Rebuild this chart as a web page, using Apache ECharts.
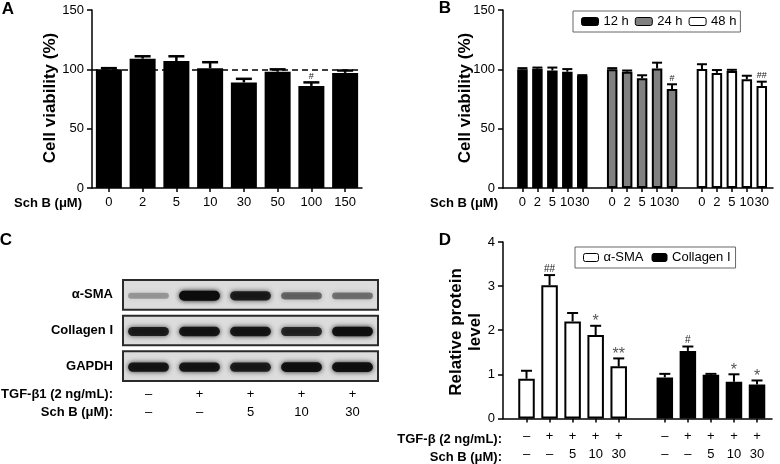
<!DOCTYPE html>
<html>
<head>
<meta charset="utf-8">
<script src="https://cdn.jsdelivr.net/npm/echarts@6/dist/echarts.min.js"></script>
<style>
  html, body { margin: 0; padding: 0; background: #fff; }
  #chart { width: 780px; height: 464px; }
</style>
</head>
<body>
<div id="chart"></div>
<script>
  // ---- panel A: viability (single dose series)
  var aDose = ['0', '2', '5', '10', '30', '50', '100', '150'];
  var aMean = [100, 109, 107, 101, 89, 98, 86, 97];
  var aErr = [1, 2, 4, 5, 3, 2, 3, 2];
  var aSig = ['', '', '', '', '', '', '#', ''];

  // ---- panel B: viability by time
  var bDose = ['0', '2', '5', '10', '30'];
  var b12 = [100, 100.5, 99, 98, 94.5];
  var b12Err = [1, 1, 2.5, 2.2, 0.6];
  var b12Sig = ['', '', '', '', ''];
  var b24 = [100, 98, 92.5, 100.8, 83.4];
  var b24Err = [1, 1, 2.5, 4.8, 4];
  var b24Sig = ['', '', '', '', '#'];
  var b48 = [100.3, 97, 98.6, 91.6, 86];
  var b48Err = [4, 2.4, 1, 3, 3.6];
  var b48Sig = ['', '', '', '', '##'];

  // ---- panel C: western blot (relative band darkness, 0..1)
  var cProteins = ['α-SMA', 'Collagen I', 'GAPDH'];
  var cTgf = ['–', '+', '+', '+', '+'];
  var cSch = ['–', '–', '5', '10', '30'];
  var cBand = [
    [0.3, 1, 0.85, 0.5, 0.45],
    [0.85, 0.9, 0.9, 0.8, 0.95],
    [0.9, 0.9, 0.85, 0.95, 0.95]
  ];

  // ---- panel D: relative protein level
  var dTgf = ['–', '+', '+', '+', '+'];
  var dSch = ['–', '–', '5', '10', '30'];
  var dSma = [0.90, 3.02, 2.20, 1.89, 1.18];
  var dSmaErr = [0.18, 0.23, 0.19, 0.21, 0.18];
  var dSmaSig = ['', '##', '', '*', '**'];
  var dCol = [0.93, 1.53, 0.99, 0.83, 0.77];
  var dColErr = [0.08, 0.10, 0.02, 0.17, 0.09];
  var dColSig = ['', '#', '', '*', '*'];

  var FONT = '"Liberation Sans", Arial, sans-serif';

  // slot index on the value axis: groups of five with one empty slot between
  function slots(g, n, step) {
    var out = [];
    for (var i = 0; i < n; i++) out.push(g * step + i);
    return out;
  }
  var bX12 = slots(0, 5, 6), bX24 = slots(1, 5, 6), bX48 = slots(2, 5, 6);
  var dXSma = slots(0, 5, 6), dXCol = slots(1, 5, 6);

  function pairs(xs, ys) {
    return ys.map(function (y, i) { return [xs[i], y]; });
  }

  function errorSeries(gi, xs, means, errs, sigs, capW, lw, hashPx, starPx) {
    return {
      type: 'custom',
      xAxisIndex: gi,
      yAxisIndex: gi,
      z: 5,
      silent: true,
      data: means.map(function (m, i) { return [xs[i], m, errs[i]]; }),
      encode: { x: 0, y: 1 },
      renderItem: function (params, api) {
        var x = api.value(0), m = api.value(1), e = api.value(2);
        var p0 = api.coord([x, m]);
        var p1 = api.coord([x, m + e]);
        var kids = [
          { type: 'line', shape: { x1: p0[0], y1: p0[1], x2: p1[0], y2: p1[1] },
            style: { stroke: '#000', lineWidth: lw } },
          { type: 'line', shape: { x1: p1[0] - capW / 2, y1: p1[1], x2: p1[0] + capW / 2, y2: p1[1] },
            style: { stroke: '#000', lineWidth: lw } }
        ];
        var s = sigs[params.dataIndex];
        if (s) {
          var star = s.indexOf('*') >= 0;
          kids.push({
            type: 'text', x: p1[0], y: p1[1] - (star ? 4 : 6),
            style: {
              text: s,
              font: (star ? starPx : hashPx) + 'px ' + FONT,
              fill: star ? '#555' : '#222',
              textAlign: 'center', textVerticalAlign: 'middle'
            }
          });
        }
        return { type: 'group', children: kids };
      }
    };
  }

  var axisLine = { show: true, onZero: false, lineStyle: { color: '#000', width: 1.5 } };
  var tickOut = { show: true, length: 5, lineStyle: { color: '#000', width: 1.5 } };
  var labelStyle = { color: '#000', fontSize: 13, fontFamily: FONT };

  function viabilityY(gi) {
    return {
      gridIndex: gi, type: 'value', min: 0, max: 150, interval: 50,
      axisLine: axisLine, axisTick: tickOut, splitLine: { show: false },
      axisLabel: Object.assign({ margin: 8 }, labelStyle)
    };
  }

  var barBorder = { borderColor: '#000', borderWidth: 2 };

  var chart = echarts.init(document.getElementById('chart'), null, { renderer: 'canvas' });

  var option = {
    animation: false,
    textStyle: { fontFamily: FONT },
    grid: [
      { left: 92, top: 10, width: 270, height: 178 },
      { left: 503, top: 10, width: 270, height: 178 },
      { left: 123, top: 277, width: 255, height: 107 },
      { left: 503, top: 242, width: 269, height: 179 }
    ],
    xAxis: [
      {
        gridIndex: 0, type: 'category', data: aDose,
        axisLine: axisLine,
        axisTick: { show: true, length: 4, alignWithLabel: true, lineStyle: { color: '#000', width: 1.5 } },
        axisLabel: Object.assign({ margin: 8, interval: 0 }, labelStyle)
      },
      {
        gridIndex: 1, type: 'value', min: -1.3, max: 16.75,
        axisLine: axisLine, splitLine: { show: false },
        axisTick: { show: true, length: 4, customValues: bX12.concat(bX24, bX48), lineStyle: { color: '#000', width: 1.5 } },
        axisLabel: Object.assign({
          margin: 8,
          customValues: bX12.concat(bX24, bX48),
          formatter: function (v) { return bDose[Math.round(v) % 6]; }
        }, labelStyle)
      },
      {
        gridIndex: 2, type: 'category', data: cTgf.map(function (t, i) { return t + '\n' + cSch[i]; }),
        axisLine: { show: false }, axisTick: { show: false },
        axisLabel: Object.assign({ margin: 1, lineHeight: 18.4, interval: 0 }, labelStyle)
      },
      {
        gridIndex: 3, type: 'value', min: -1.02, max: 10.65,
        axisLine: axisLine, splitLine: { show: false },
        axisTick: { show: true, length: 4, customValues: dXSma.concat(dXCol), lineStyle: { color: '#000', width: 1.5 } },
        axisLabel: Object.assign({
          margin: 9, lineHeight: 18.3,
          customValues: dXSma.concat(dXCol),
          formatter: function (v) { var i = Math.round(v) % 6; return dTgf[i] + '\n' + dSch[i]; }
        }, labelStyle)
      }
    ],
    yAxis: [
      viabilityY(0),
      viabilityY(1),
      {
        gridIndex: 2, type: 'category', data: cProteins, inverse: true,
        axisLine: { show: false }, axisTick: { show: false },
        axisLabel: Object.assign({ margin: 10, fontWeight: 'bold' }, labelStyle)
      },
      {
        gridIndex: 3, type: 'value', min: 0, max: 4, interval: 1,
        axisLine: axisLine, axisTick: tickOut, splitLine: { show: false },
        axisLabel: Object.assign({ margin: 8 }, labelStyle)
      }
    ],
    legend: [
      {
        data: ['12 h', '24 h', '48 h'],
        left: 573, top: 11, orient: 'horizontal',
        itemWidth: 17, itemHeight: 8, itemGap: 6,
        padding: [4, 4, 4, 8],
        borderColor: '#666', borderWidth: 1,
        itemStyle: { borderWidth: 1, borderColor: '#000' },
        textStyle: { color: '#000', fontSize: 13, fontFamily: FONT },
        selectedMode: false
      },
      {
        data: ['α-SMA', 'Collagen I'],
        left: 575, top: 247, orient: 'horizontal',
        itemWidth: 15, itemHeight: 8, itemGap: 8,
        padding: [4, 5, 4, 8],
        borderColor: '#666', borderWidth: 1,
        itemStyle: { borderWidth: 1, borderColor: '#000' },
        textStyle: { color: '#000', fontSize: 13, fontFamily: FONT },
        selectedMode: false
      }
    ],
    series: [
      // A
      {
        type: 'bar', name: 'A', xAxisIndex: 0, yAxisIndex: 0,
        data: aMean, barWidth: 26,
        itemStyle: { color: '#000' },
        markLine: {
          silent: true, symbol: 'none', label: { show: false },
          lineStyle: { type: [6, 4], color: '#000', width: 1.5 },
          data: [{ yAxis: 100 }]
        }
      },
      errorSeries(0, aMean.map(function (v, i) { return i; }), aMean, aErr, aSig, 16, 2.5, 9, 14),

      // B
      { type: 'bar', name: '12 h', xAxisIndex: 1, yAxisIndex: 1, data: pairs(bX12, b12), barWidth: 10.5, barGap: '-100%',
        itemStyle: Object.assign({ color: '#000' }, barBorder) },
      { type: 'bar', name: '24 h', xAxisIndex: 1, yAxisIndex: 1, data: pairs(bX24, b24), barWidth: 10.5, barGap: '-100%',
        itemStyle: Object.assign({ color: '#808080' }, barBorder) },
      { type: 'bar', name: '48 h', xAxisIndex: 1, yAxisIndex: 1, data: pairs(bX48, b48), barWidth: 10.5, barGap: '-100%',
        itemStyle: Object.assign({ color: '#fff' }, barBorder) },
      errorSeries(1, bX12, b12, b12Err, b12Sig, 10, 2, 9, 14),
      errorSeries(1, bX24, b24, b24Err, b24Sig, 10, 2, 9, 14),
      errorSeries(1, bX48, b48, b48Err, b48Sig, 10, 2, 9, 14),

      // C: membrane strips
      {
        type: 'custom', xAxisIndex: 2, yAxisIndex: 2, silent: true,
        data: cProteins.map(function (p, i) { return [0, i]; }),
        encode: { x: 0, y: 1 },
        renderItem: function (params, api) {
          var c = api.coord([0, api.value(1)]);
          var size = api.size([1, 1]);
          var h = size[1] * 0.83;
          return {
            type: 'rect',
            shape: { x: c[0] - size[0] / 2, y: c[1] - h / 2, width: size[0] * cTgf.length, height: h },
            style: { fill: '#dcdcdc', stroke: '#2a2a2a', lineWidth: 2 }
          };
        }
      },
      // C: bands
      {
        type: 'custom', xAxisIndex: 2, yAxisIndex: 2, silent: true, z: 3,
        data: cBand.reduce(function (acc, row, r) {
          return acc.concat(row.map(function (k, l) { return [l, r, k]; }));
        }, []),
        encode: { x: 0, y: 1 },
        renderItem: function (params, api) {
          var c = api.coord([api.value(0), api.value(1)]);
          var size = api.size([1, 1]);
          var k = api.value(2);
          var w = size[0] * 0.8, h = size[1] * (0.12 + 0.16 * k);
          var col = 'rgba(12,12,12,' + k + ')';
          return {
            type: 'rect',
            shape: { x: c[0] - w / 2, y: c[1] - h / 2 + 1, width: w, height: h, r: h / 2 },
            style: { fill: col, shadowBlur: 5, shadowColor: col }
          };
        }
      },

      // D
      { type: 'bar', name: 'α-SMA', xAxisIndex: 3, yAxisIndex: 3, data: pairs(dXSma, dSma), barWidth: 16.5, barGap: '-100%',
        itemStyle: Object.assign({ color: '#fff' }, barBorder) },
      { type: 'bar', name: 'Collagen I', xAxisIndex: 3, yAxisIndex: 3, data: pairs(dXCol, dCol), barWidth: 16.5, barGap: '-100%',
        itemStyle: Object.assign({ color: '#000' }, barBorder) },
      errorSeries(3, dXSma, dSma, dSmaErr, dSmaSig, 11, 2, 10, 16),
      errorSeries(3, dXCol, dCol, dColErr, dColSig, 11, 2, 10, 16)
    ],
    graphic: [
      { type: 'text', x: 8, y: 9, style: { text: 'A', font: 'bold 17px ' + FONT, fill: '#000', textAlign: 'center', textVerticalAlign: 'middle' } },
      { type: 'text', x: 445, y: 8.5, style: { text: 'B', font: 'bold 17px ' + FONT, fill: '#000', textAlign: 'center', textVerticalAlign: 'middle' } },
      { type: 'text', x: 6, y: 240, style: { text: 'C', font: 'bold 17px ' + FONT, fill: '#000', textAlign: 'center', textVerticalAlign: 'middle' } },
      { type: 'text', x: 445, y: 240, style: { text: 'D', font: 'bold 17px ' + FONT, fill: '#000', textAlign: 'center', textVerticalAlign: 'middle' } },

      { type: 'text', x: 50, y: 98, rotation: Math.PI / 2,
        style: { text: 'Cell viability (%)', font: 'bold 17px ' + FONT, fill: '#000', textAlign: 'center', textVerticalAlign: 'middle' } },
      { type: 'text', x: 465, y: 98, rotation: Math.PI / 2,
        style: { text: 'Cell viability (%)', font: 'bold 17px ' + FONT, fill: '#000', textAlign: 'center', textVerticalAlign: 'middle' } },
      { type: 'text', x: 466, y: 332, rotation: Math.PI / 2,
        style: { text: 'Relative protein\nlevel', font: 'bold 17px ' + FONT, lineHeight: 18.5, fill: '#000', textAlign: 'center', textVerticalAlign: 'middle' } },

      { type: 'text', x: 82, y: 203, style: { text: 'Sch B (μM)', font: 'bold 13px ' + FONT, fill: '#000', textAlign: 'right', textVerticalAlign: 'middle' } },
      { type: 'text', x: 498, y: 203, style: { text: 'Sch B (μM)', font: 'bold 13px ' + FONT, fill: '#000', textAlign: 'right', textVerticalAlign: 'middle' } },
      { type: 'text', x: 113, y: 394.3, style: { text: 'TGF-β1 (2 ng/mL):', font: 'bold 13px ' + FONT, fill: '#000', textAlign: 'right', textVerticalAlign: 'middle' } },
      { type: 'text', x: 113, y: 412.7, style: { text: 'Sch B (μM):', font: 'bold 13px ' + FONT, fill: '#000', textAlign: 'right', textVerticalAlign: 'middle' } },
      { type: 'text', x: 502, y: 439, style: { text: 'TGF-β (2 ng/mL):', font: 'bold 13px ' + FONT, fill: '#000', textAlign: 'right', textVerticalAlign: 'middle' } },
      { type: 'text', x: 502, y: 457.3, style: { text: 'Sch B (μM):', font: 'bold 13px ' + FONT, fill: '#000', textAlign: 'right', textVerticalAlign: 'middle' } }
    ]
  };

  chart.setOption(option);
</script>
</body>
</html>
